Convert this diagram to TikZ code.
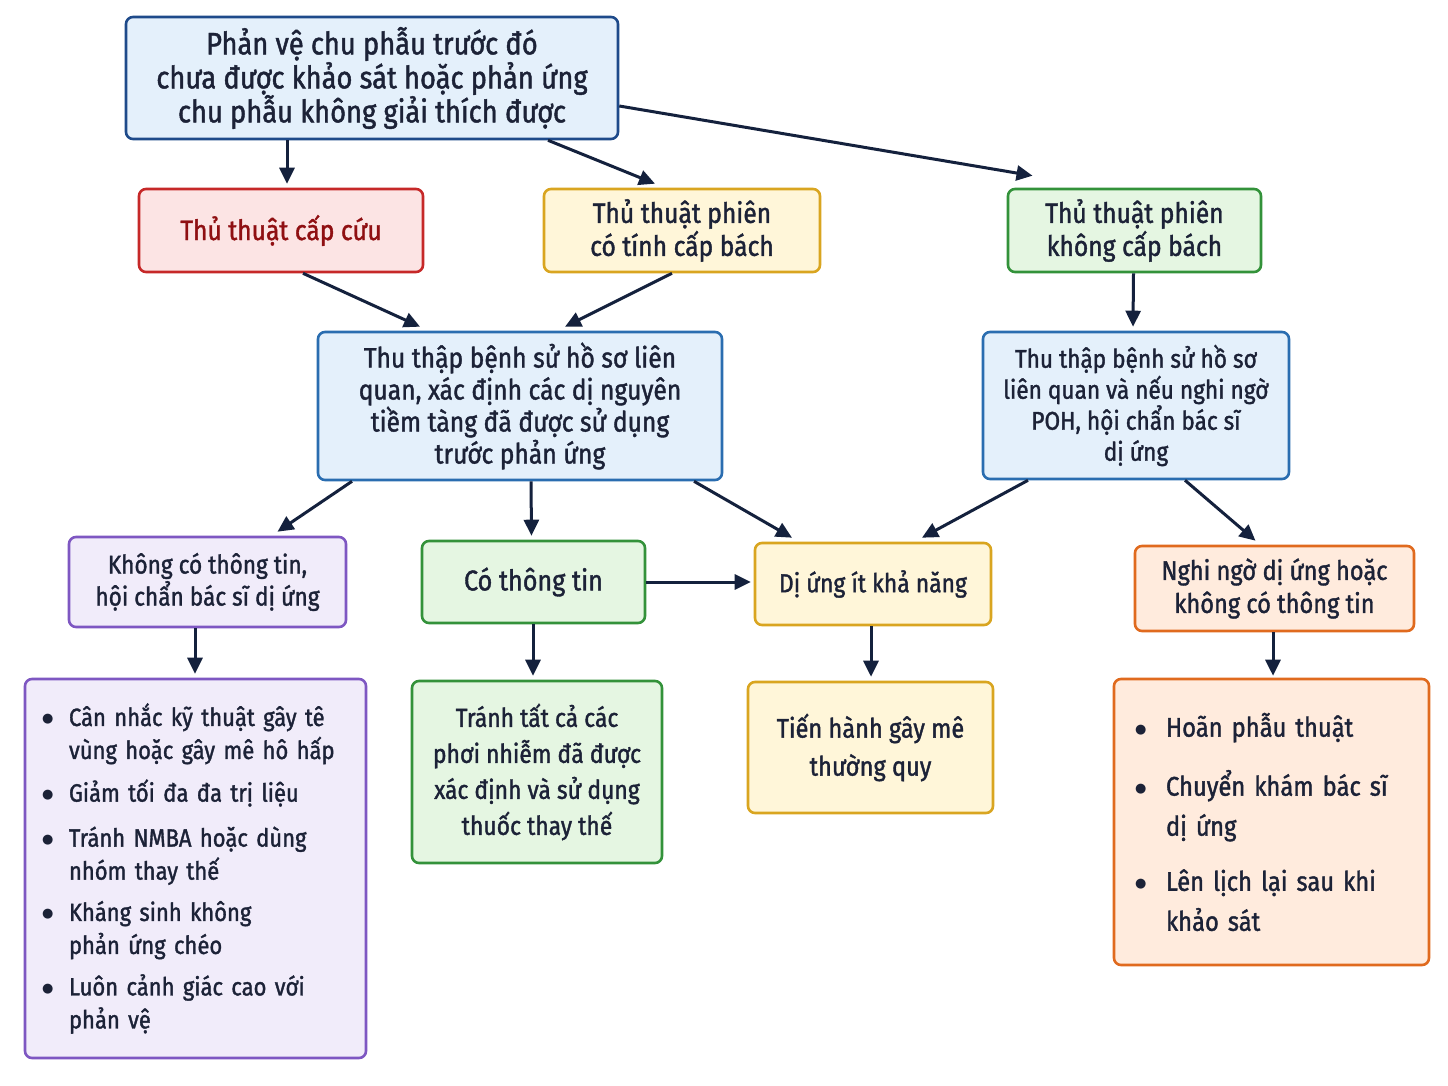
\documentclass[tikz,border=0pt]{standalone}
\usepackage{fontspec}
\setmainfont[FakeStretch=0.88,FakeBold=1.4]{Fira Sans}
\newfontfamily\symfont{DejaVu Sans}
\usetikzlibrary{arrows.meta}
\definecolor{txt}{HTML}{1C2237}
\definecolor{arrowc}{HTML}{14213D}
\definecolor{bluefill}{HTML}{E4F0FB}
\definecolor{blueline}{HTML}{2A6DB0}
\definecolor{topline}{HTML}{1E4A8A}
\definecolor{redfill}{HTML}{FCE4E4}
\definecolor{redline}{HTML}{C62828}
\definecolor{redtxt}{HTML}{8F0F12}
\definecolor{yelfill}{HTML}{FFF6D9}
\definecolor{yelline}{HTML}{D9A520}
\definecolor{grnfill}{HTML}{E5F6E2}
\definecolor{grnline}{HTML}{33923A}
\definecolor{purfill}{HTML}{F1ECFA}
\definecolor{purline}{HTML}{7E57C2}
\definecolor{orafill}{HTML}{FFEBDD}
\definecolor{oraline}{HTML}{E06A1E}
\newcommand{\bitem}[3]{\noindent\makebox[#1][l]{\raisebox{0.12em}{\symfont\fontsize{13}{13}\selectfont ●}}\parbox[t]{#2}{\raggedright #3}\par}
\begin{document}
\begin{tikzpicture}[x=1pt,y=-1pt,
  box/.style={draw, rounded corners=7pt, line width=2.6pt, align=center, inner sep=0pt, text=txt},
  bluebox/.style={box, fill=bluefill, draw=blueline},
  redbox/.style={box, fill=redfill, draw=redline, text=redtxt},
  yelbox/.style={box, fill=yelfill, draw=yelline},
  grnbox/.style={box, fill=grnfill, draw=grnline},
  purbox/.style={box, fill=purfill, draw=purline},
  orabox/.style={box, fill=orafill, draw=oraline},
  arr/.style={-{Triangle[length=16pt,width=15pt]}, line width=3pt, draw=arrowc}]
\useasboundingbox[fill=white] (0,0) rectangle (1448,1086);

\node[bluebox, draw=topline, minimum width=492pt, minimum height=122pt, font=\fontsize{31}{34}\selectfont] (top) at (372,78)
  {Phản vệ chu phẫu trước đó\\chưa được khảo sát hoặc phản ứng\\chu phẫu không giải thích được};
\node[redbox, minimum width=284pt, minimum height=83pt, font=\fontsize{28}{33}\selectfont] (red) at (281,230.5) {Thủ thuật cấp cứu};
\node[yelbox, minimum width=276pt, minimum height=83pt, font=\fontsize{28}{33}\selectfont] (yel1) at (682,230.5) {Thủ thuật phiên\\có tính cấp bách};
\node[grnbox, minimum width=253pt, minimum height=83pt, font=\fontsize{28}{33}\selectfont] (grn1) at (1134.5,230.5) {Thủ thuật phiên\\không cấp bách};

\node[bluebox, minimum width=404pt, minimum height=148pt, font=\fontsize{28}{32}\selectfont] (mid) at (520,406)
  {Thu thập bệnh sử hồ sơ liên\\quan, xác định các dị nguyên\\tiềm tàng đã được sử dụng\\trước phản ứng};
\node[bluebox, minimum width=306pt, minimum height=147pt, font=\fontsize{25.7}{31}\selectfont] (rblue) at (1136,405.5)
  {Thu thập bệnh sử hồ sơ\\liên quan và nếu nghi ngờ\\POH, hội chẩn bác sĩ\\dị ứng};

\node[purbox, minimum width=277pt, minimum height=90pt, font=\fontsize{25.7}{32}\selectfont] (purp) at (207.5,582) {Không có thông tin,\\hội chẩn bác sĩ dị ứng};
\node[grnbox, minimum width=223pt, minimum height=82pt, font=\fontsize{28.6}{33}\selectfont] (cothong) at (533.5,582) {Có thông tin};
\node[yelbox, minimum width=236pt, minimum height=82pt, font=\fontsize{26}{33}\selectfont] (diung) at (873,584) {Dị ứng ít khả năng};
\node[orabox, minimum width=279pt, minimum height=85pt, font=\fontsize{26.8}{33}\selectfont] (nghi) at (1274.5,588.5) {Nghi ngờ dị ứng hoặc\\không có thông tin};

\node[purbox, minimum width=341pt, minimum height=379pt, text width=307pt, align=left, font=\fontsize{25}{33}\selectfont] (plist) at (195.5,868.5)
  {\bitem{27pt}{280pt}{Cân nhắc kỹ thuật gây tê\\vùng hoặc gây mê hô hấp}\vspace{14pt}
   \bitem{27pt}{280pt}{Giảm tối đa đa trị liệu}\vspace{12pt}
   \bitem{27pt}{280pt}{Tránh NMBA hoặc dùng\\nhóm thay thế}\vspace{15pt}
   \bitem{27pt}{280pt}{Kháng sinh không\\phản ứng chéo}\vspace{14pt}
   \bitem{27pt}{280pt}{Luôn cảnh giác cao với\\phản vệ}};
\node[grnbox, minimum width=250pt, minimum height=182pt, font=\fontsize{26}{36}\selectfont] (tranh) at (537,772)
  {Tránh tất cả các\\phơi nhiễm đã được\\xác định và sử dụng\\thuốc thay thế};
\node[yelbox, minimum width=245pt, minimum height=131pt, font=\fontsize{26.8}{38}\selectfont] (tien) at (870.5,747.5)
  {Tiến hành gây mê\\thường quy};
\node[orabox, minimum width=315pt, minimum height=286pt, text width=273pt, align=left, font=\fontsize{27}{40}\selectfont] (olist) at (1271.5,822)
  {\bitem{31pt}{242pt}{Hoãn phẫu thuật}\vspace{19pt}
   \bitem{31pt}{242pt}{Chuyển khám bác sĩ\\dị ứng}\vspace{27pt}
   \bitem{31pt}{242pt}{Lên lịch lại sau khi\\khảo sát}};

\draw[arr] ([xshift=-85pt]top.south) -- ([xshift=6pt,yshift=4pt]red.north);
\draw[arr] ([xshift=176pt]top.south) -- ([xshift=-27pt,yshift=4pt]yel1.north);
\draw[arr] ([yshift=-28pt]top.east) -- ([xshift=-102pt,yshift=12pt]grn1.north);
\draw[arr] ([xshift=22pt]red.south) -- ([xshift=-100pt,yshift=4pt]mid.north);
\draw[arr] ([xshift=-10pt]yel1.south) -- ([xshift=45pt,yshift=4pt]mid.north);
\draw[arr] ([xshift=-1pt]grn1.south) -- ([xshift=-3pt,yshift=4pt]rblue.north);
\draw[arr] ([xshift=-168pt]mid.south) -- ([xshift=70pt,yshift=4pt]purp.north);
\draw[arr] ([xshift=11pt]mid.south) -- ([xshift=-2pt,yshift=4pt]cothong.north);
\draw[arr] ([xshift=174pt]mid.south) -- ([xshift=-81pt,yshift=4pt]diung.north);
\draw[arr] ([xshift=-108pt]rblue.south) -- ([xshift=49pt,yshift=4pt]diung.north);
\draw[arr] ([xshift=49pt]rblue.south) -- ([xshift=-19pt,yshift=4pt]nghi.north);
\draw[arr] ([xshift=-12.5pt]purp.south) -- ([xshift=-0.5pt,yshift=4pt]plist.north);
\draw[arr] ([xshift=-0.5pt]cothong.south) -- ([xshift=-4pt,yshift=4pt]tranh.north);
\draw[arr] ([yshift=0pt]cothong.east) -- ([xshift=-3pt,yshift=2pt]diung.west);
\draw[arr] ([xshift=-2pt]diung.south) -- ([xshift=0.5pt,yshift=4pt]tien.north);
\draw[arr] ([xshift=-1.5pt]nghi.south) -- ([xshift=1.5pt,yshift=2pt]olist.north);
\end{tikzpicture}
\end{document}
